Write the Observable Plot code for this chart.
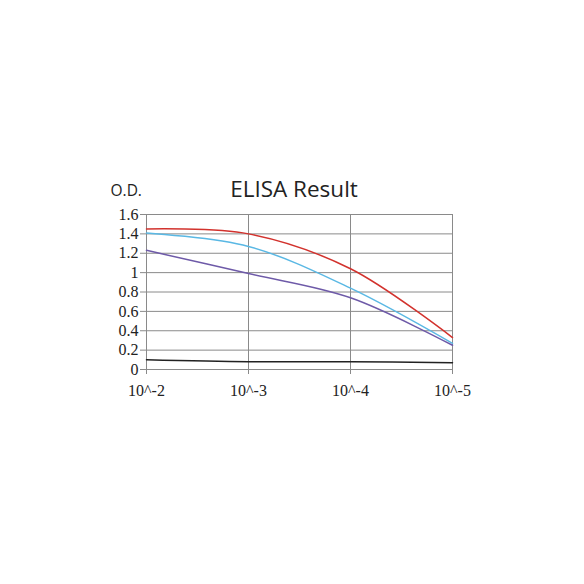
<!DOCTYPE html>
<html>
<head>
<meta charset="utf-8">
<script src="https://cdn.jsdelivr.net/npm/d3@7"></script>
<script src="https://cdn.jsdelivr.net/npm/@observablehq/plot@0.6"></script>
<style>
  html, body { margin: 0; padding: 0; background: #fff; }
  #chart { width: 584px; height: 584px; }
</style>
</head>
<body>
<div id="chart"></div>
<script>
const dilutions = ["10^-2", "10^-3", "10^-4", "10^-5"];
const redValues = [1.45, 1.40, 1.04, 0.33];
const cyanValues = [1.41, 1.27, 0.84, 0.27];
const purpleValues = [1.23, 0.99, 0.74, 0.25];
const blackValues = [0.10, 0.08, 0.08, 0.07];
const yTicks = [0, 0.2, 0.4, 0.6, 0.8, 1, 1.2, 1.4, 1.6];
const titleText = "ELISA Result";
const yLabelText = "O.D.";

const seriesList = [
  {name: "red", values: redValues, color: "#d2322d"},
  {name: "cyan", values: cyanValues, color: "#5ab8e4"},
  {name: "purple", values: purpleValues, color: "#6e5aa8"},
  {name: "black", values: blackValues, color: "#222222"}
];
const rows = seriesList.flatMap(s => s.values.map((v, i) => ({series: s.name, x: dilutions[i], y: v})));
const colorOf = Object.fromEntries(seriesList.map(s => [s.name, s.color]));

const chart = Plot.plot({
  width: 584,
  height: 584,
  marginLeft: 145,
  marginRight: 132,
  marginTop: 214,
  marginBottom: 215,
  style: {background: "#fff", overflow: "visible"},
  x: {type: "point", domain: dilutions, padding: 0, label: null},
  y: {domain: [0, 1.6], label: null},
  marks: [
    Plot.gridY(yTicks, {stroke: "#8a8a8a", strokeOpacity: 1, strokeWidth: 1}),
    Plot.gridX(dilutions, {stroke: "#8a8a8a", strokeOpacity: 1, strokeWidth: 1}),
    Plot.axisY(yTicks, {
      tickSize: 5, tickPadding: 2, stroke: "#8a8a8a",
      tickFormat: d => String(+d.toFixed(1)),
      fontFamily: "Liberation Serif", fontSize: 16, fill: "#222"
    }),
    Plot.axisX(dilutions, {
      tickSize: 5, tickPadding: 10, stroke: "#8a8a8a",
      fontFamily: "Liberation Serif", fontSize: 16, fill: "#222"
    }),
    Plot.ruleY([0], {stroke: "#8a8a8a"}),
    Plot.ruleX([dilutions[0]], {stroke: "#8a8a8a"}),
    ...seriesList.map(s => Plot.line(rows.filter(r => r.series === s.name), {
      x: "x", y: "y", stroke: colorOf[s.name], strokeWidth: 1.5, curve: "catmull-rom"
    })),
    Plot.text([titleText], {
      frameAnchor: "top", dy: -18, dx: -5, text: d => d,
      fontFamily: "Open Sans", fontSize: 22.5, fill: "#222", lineAnchor: "bottom"
    }),
    Plot.text([yLabelText], {
      frameAnchor: "top-left", dx: -35, dy: -19, text: d => d, textAnchor: "start",
      fontFamily: "Open Sans", fontSize: 15.5, fill: "#222", lineAnchor: "bottom"
    })
  ]
});
document.getElementById("chart").appendChild(chart);
</script>
</body>
</html>
